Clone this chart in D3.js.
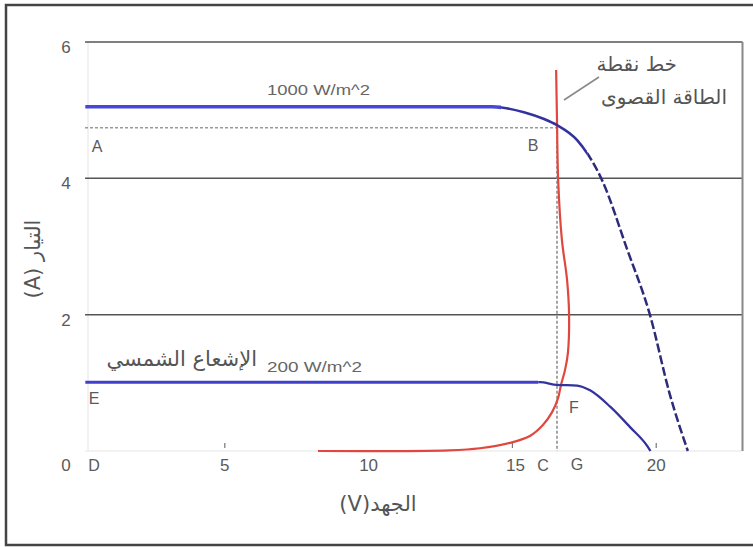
<!DOCTYPE html>
<html>
<head>
<meta charset="utf-8">
<script src="https://cdn.jsdelivr.net/npm/d3@7"></script>
<style>
  body { margin: 0; background: #fff; }
  svg { display: block; }
  .tick-label { font-family: "Liberation Sans", Arial, sans-serif; font-size: 17px; fill: #5a5a5a; }
  .pt-label { font-family: "Liberation Sans", Arial, sans-serif; font-size: 16px; fill: #5a5a5a; }
  .curve-label { font-family: "Liberation Sans", Arial, sans-serif; font-size: 15px; fill: #666; }
  .ar { font-family: "DejaVu Sans", sans-serif; fill: #555; }
</style>
</head>
<body>
<div id="chart"></div>
<script>
// I-V curves: [voltage V, current A]
const curve1000 = [[0.15, 5.05], [14.3, 5.05], [15.4, 4.97], [16.1, 4.87], [16.55, 4.78],
  [17.25, 4.56], [18.12, 3.97], [18.98, 2.97], [19.78, 2.0], [20.48, 0.82], [21.1, 0]];
const curve200 = [[0.15, 1.01], [15.95, 1.01], [16.55, 0.97], [17.25, 0.96], [17.7, 0.89],
  [18.4, 0.65], [19.09, 0.35], [19.71, 0.06], [19.8, 0]];
// maximum power point line
const mppLine = [[8.24, 0], [12.8, 0.01], [13.87, 0.04], [14.92, 0.12], [15.61, 0.22], [16.06, 0.38],
  [16.38, 0.57], [16.59, 0.78], [16.69, 0.97], [16.83, 1.19], [16.93, 1.44], [16.97, 2.0],
  [16.9, 2.51], [16.72, 3.1], [16.59, 3.98], [16.55, 4.86], [16.52, 5.59]];
const pointB = [16.55, 4.77];

const xTicks = [5, 10, 15, 20];
const yTicks = [2, 4, 6];
const xMarks = [5, 15, 20];   // tiny tick marks drawn at the bottom

const width = 753, height = 547;

const svg = d3.select("#chart")
  .append("svg")
    .attr("width", width)
    .attr("height", height);

// outer frame (right side is cut off in the original)
svg.append("rect")
  .attr("x", 6).attr("y", 5)
  .attr("width", 760).attr("height", 540)
  .attr("fill", "white")
  .attr("stroke", "#444")
  .attr("stroke-width", 2.5);

const x = d3.scaleLinear().domain([0, 23]).range([81, 742.5]);
const y = d3.scaleLinear().domain([0, 6]).range([451, 42]);
const x0 = 0.14, x1 = 23;

// clip regions used to style parts of a curve differently
const defs = svg.append("defs");
function clipBand(id, a, b) {
  defs.append("clipPath").attr("id", id)
    .append("rect")
      .attr("x", x(a)).attr("y", 0)
      .attr("width", x(b) - x(a)).attr("height", height);
}
clipBand("c1", 0, 14.6);
clipBand("c2", 14.6, 17.6);
clipBand("c3", 17.6, 23);
clipBand("d1", 0, 15.9);
clipBand("d2", 15.9, 23);

// faint plot background edges
svg.append("line")
  .attr("x1", x(x0) + 3).attr("x2", x(x0) + 3)
  .attr("y1", y(6)).attr("y2", y(0))
  .attr("stroke", "#eee").attr("stroke-width", 1.5);
svg.append("line")
  .attr("x1", x(x0)).attr("x2", x(x1))
  .attr("y1", y(0)).attr("y2", y(0))
  .attr("stroke", "#eee").attr("stroke-width", 1.5);

// horizontal grid lines
svg.append("g")
  .selectAll("line")
  .data(yTicks)
  .join("line")
    .attr("x1", x(x0)).attr("x2", x(x1))
    .attr("y1", d => y(d)).attr("y2", d => y(d))
    .attr("stroke", "#555")
    .attr("stroke-width", 1.5);

// right border of plot
svg.append("line")
  .attr("x1", x(x1)).attr("x2", x(x1))
  .attr("y1", y(6)).attr("y2", y(0))
  .attr("stroke", "#888")
  .attr("stroke-width", 2);

// small tick marks
svg.append("g")
  .selectAll("line")
  .data(xMarks)
  .join("line")
    .attr("x1", d => x(d)).attr("x2", d => x(d))
    .attr("y1", y(0) - 8).attr("y2", y(0) - 3)
    .attr("stroke", "#777")
    .attr("stroke-width", 1.2);

// y tick labels
svg.append("g")
  .selectAll("text")
  .data(yTicks)
  .join("text")
    .attr("class", "tick-label")
    .attr("x", 66)
    .attr("y", d => y(d) + 11)
    .attr("text-anchor", "middle")
    .text(d => d);
svg.append("text")
  .attr("class", "tick-label")
  .attr("x", 66).attr("y", 471)
  .attr("text-anchor", "middle")
  .text("0");

// x tick labels
svg.append("g")
  .selectAll("text")
  .data(xTicks)
  .join("text")
    .attr("class", "tick-label")
    .attr("x", d => x(d) + (d === 15 ? 3 : 0))
    .attr("y", 471)
    .attr("text-anchor", "middle")
    .text(d => d);

// dotted guide lines through B
svg.append("line")
  .attr("x1", x(x0)).attr("x2", x(pointB[0]))
  .attr("y1", y(pointB[1]) + 2).attr("y2", y(pointB[1]) + 2)
  .attr("stroke", "#999").attr("stroke-width", 1.5)
  .attr("stroke-dasharray", "3,2");
svg.append("line")
  .attr("x1", x(pointB[0])).attr("x2", x(pointB[0]))
  .attr("y1", y(pointB[1])).attr("y2", y(0))
  .attr("stroke", "#888").attr("stroke-width", 1.5)
  .attr("stroke-dasharray", "3,2");

const line = d3.line()
  .x(d => x(d[0]))
  .y(d => y(d[1]))
  .curve(d3.curveMonotoneX);
const lineY = d3.line()
  .x(d => x(d[0]))
  .y(d => y(d[1]))
  .curve(d3.curveCatmullRom);

// red maximum power line
svg.append("path")
  .datum(mppLine)
  .attr("fill", "none")
  .attr("stroke", "#e0483f")
  .attr("stroke-width", 2.2)
  .attr("d", lineY);

// 1000 W/m^2 curve: bright flat part, dark knee, dashed tail
const styles1000 = [
  {clip: "c1", color: "#4848d8", w: 3.5, dash: null},
  {clip: "c2", color: "#33339e", w: 2.6, dash: null},
  {clip: "c3", color: "#2c2c7a", w: 2.5, dash: "9,3"}
];
styles1000.forEach(s => {
  svg.append("path")
    .datum(curve1000)
    .attr("clip-path", `url(#${s.clip})`)
    .attr("fill", "none")
    .attr("stroke", s.color)
    .attr("stroke-width", s.w)
    .attr("stroke-dasharray", s.dash)
    .attr("d", line);
});

// 200 W/m^2 curve
const styles200 = [
  {clip: "d1", color: "#4040cc", w: 3},
  {clip: "d2", color: "#33339e", w: 2.3}
];
styles200.forEach(s => {
  svg.append("path")
    .datum(curve200)
    .attr("clip-path", `url(#${s.clip})`)
    .attr("fill", "none")
    .attr("stroke", s.color)
    .attr("stroke-width", s.w)
    .attr("d", line);
});

// curve labels
svg.append("text")
  .attr("class", "curve-label")
  .attr("x", 267).attr("y", 95)
  .attr("textLength", 103)
  .attr("lengthAdjust", "spacingAndGlyphs")
  .text("1000 W/m^2");
svg.append("text")
  .attr("class", "curve-label")
  .attr("x", 267).attr("y", 372)
  .attr("textLength", 95)
  .attr("lengthAdjust", "spacingAndGlyphs")
  .text("200 W/m^2");
svg.append("text")
  .attr("class", "ar")
  .attr("x", 257).attr("y", 366)
  .attr("direction", "rtl")
  .attr("font-size", 21)
  .text("الإشعاع الشمسي");

// point letters
const letters = [
  ["A", 97, 152], ["B", 533, 151], ["E", 94, 404], ["F", 574, 413],
  ["D", 94, 471], ["C", 543, 471], ["G", 577, 470]
];
svg.append("g")
  .selectAll("text")
  .data(letters)
  .join("text")
    .attr("class", "pt-label")
    .attr("x", d => d[1])
    .attr("y", d => d[2])
    .attr("text-anchor", "middle")
    .text(d => d[0]);

// annotation of the maximum power point line
svg.append("line")
  .attr("x1", 564).attr("y1", 100)
  .attr("x2", 599).attr("y2", 77)
  .attr("stroke", "#888").attr("stroke-width", 1.5);
svg.append("text")
  .attr("class", "ar")
  .attr("x", 677).attr("y", 71)
  .attr("direction", "rtl")
  .attr("font-size", 20)
  .text("خط نقطة");
svg.append("text")
  .attr("class", "ar")
  .attr("x", 727).attr("y", 104)
  .attr("direction", "rtl")
  .attr("font-size", 20)
  .text("الطاقة القصوى");

// axis titles
svg.append("text")
  .attr("class", "ar")
  .attr("transform", "translate(40,259) rotate(-90)")
  .attr("text-anchor", "middle")
  .attr("direction", "rtl")
  .attr("font-size", 21)
  .text("التيار (A)");
svg.append("text")
  .attr("class", "ar")
  .attr("x", 378).attr("y", 511)
  .attr("text-anchor", "middle")
  .attr("direction", "rtl")
  .attr("font-size", 21)
  .text("الجهد(V)");
</script>
</body>
</html>
